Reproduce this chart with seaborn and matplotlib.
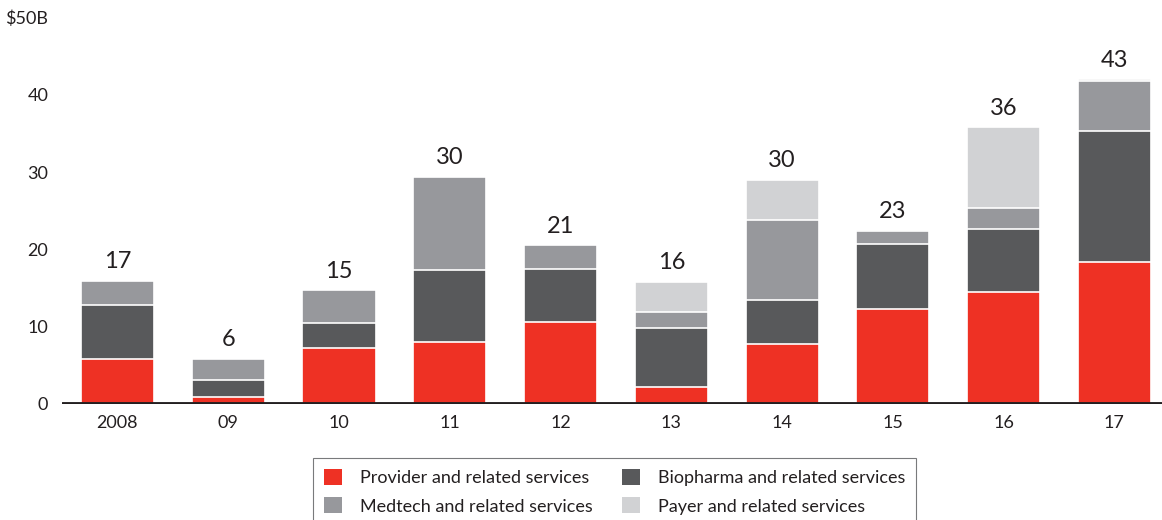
import numpy as np
import pandas as pd
import matplotlib
matplotlib.use('Agg')
import matplotlib.pyplot as plt
import seaborn as sns
from matplotlib.patches import Patch

# ------------------------------------------------------------------
# Data ($B per year)
# ------------------------------------------------------------------
years      = ['2008', '09', '10', '11', '12', '13', '14', '15', '16', '17']
provider   = [5.8, 0.9, 7.15, 8.0, 10.55, 2.2, 7.7, 12.25, 14.4, 18.3]
biopharma  = [7.0, 2.1, 3.25, 9.3, 6.9, 7.55, 5.7, 8.45, 8.2, 17.0]
medtech    = [3.1, 2.8, 4.3, 12.1, 3.05, 2.15, 10.4, 1.6, 2.8, 6.5]
payer      = [0.0, 0.0, 0.0, 0.0, 0.0, 3.9, 5.2, 0.2, 10.4, 0.25]
totals_lbl = ['17', '6', '15', '30', '21', '16', '30', '23', '36', '43']

names  = ['Provider and related services', 'Biopharma and related services',
          'Medtech and related services', 'Payer and related services']
colors = ['#ee3124', '#58595b', '#97989c', '#d1d2d4']

df = pd.DataFrame({'year': years, 'provider': provider, 'biopharma': biopharma,
                   'medtech': medtech, 'payer': payer})
# cumulative heights for the layered stacked bars
df['c1'] = df['provider']
df['c2'] = df['c1'] + df['biopharma']
df['c3'] = df['c2'] + df['medtech']
df['c4'] = df['c3'] + df['payer']

# ------------------------------------------------------------------
# Plot
# ------------------------------------------------------------------
sns.set_theme(style='white')
plt.rcParams['font.family'] = ['Lato', 'DejaVu Sans']
text_col = '#231f20'

fig = plt.figure(figsize=(11.62, 5.2), dpi=100)
ax = fig.add_axes([0.0534, 0.224, 0.9466, 0.742])

# tallest layer first, so shorter ones sit on top of it
for col, c in zip(['c4', 'c3', 'c2', 'c1'], colors[::-1]):
    sns.barplot(data=df, x='year', y=col, order=years, color=c, width=0.66,
                edgecolor='white', linewidth=1.2, saturation=1, ax=ax)

for i, lbl in enumerate(totals_lbl):
    ax.annotate(lbl, (i, df['c4'].iloc[i]), xytext=(0, 6), textcoords='offset points',
                ha='center', va='bottom', fontsize=17, color=text_col)

ax.axhline(0, color=text_col, lw=3.5, zorder=5)
ax.set_ylim(0, 50)
ax.set_xlim(-0.5, 9.43)
ax.set_yticks([0, 10, 20, 30, 40, 50])
ax.set_yticklabels(['0', '10', '20', '30', '40', '$50B'])
ax.tick_params(axis='both', length=0, labelsize=13, colors=text_col)
ax.tick_params(axis='y', pad=10)
ax.tick_params(axis='x', pad=8)
ax.set_xlabel('')
ax.set_ylabel('')
sns.despine(ax=ax, left=True, bottom=True)

# legend: Provider/Medtech in first column, Biopharma/Payer in second
order = [0, 2, 1, 3]
handles = [Patch(facecolor=colors[k], edgecolor='none') for k in order]
leg = fig.legend(handles, [names[k] for k in order], ncol=2,
                 loc='upper left', bbox_to_anchor=(0.262, 0.136),
                 frameon=True, fancybox=False, fontsize=13,
                 handlelength=1.0, handleheight=1.0, handletextpad=1.0,
                 columnspacing=1.6, labelspacing=0.6, borderpad=0.6)
leg.get_frame().set_edgecolor('#58595b')
leg.get_frame().set_linewidth(0.8)
for t in leg.get_texts():
    t.set_color(text_col)

fig.savefig('out.png', dpi=100)
